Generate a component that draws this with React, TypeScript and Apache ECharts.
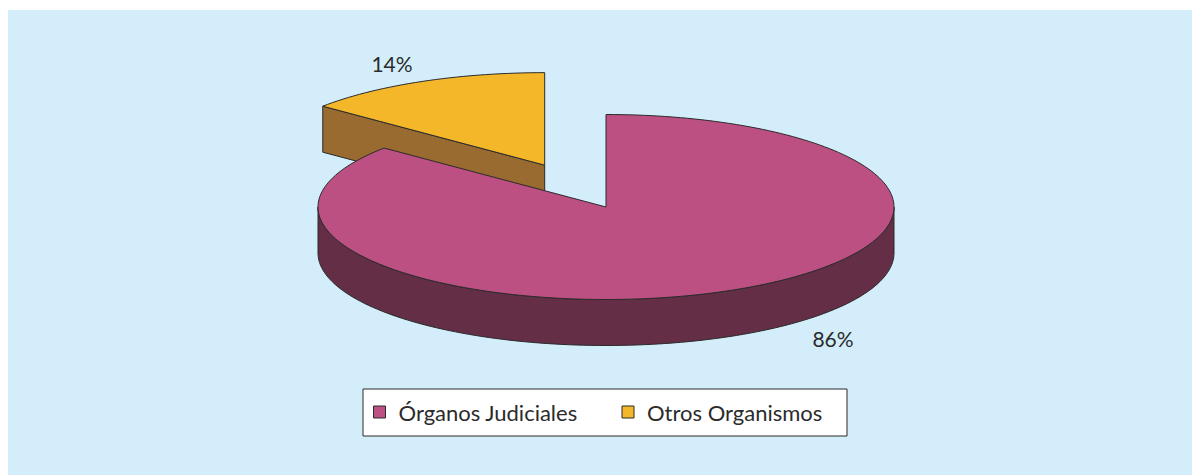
import React, { useEffect, useRef } from "react";
import * as echarts from "echarts";

const categories = ["Órganos Judiciales", "Otros Organismos"];
const values = [86, 14];
const topColors = ["#BC5082", "#F4B72A"];
const sideColors = ["#642E46", "#996B31"];
const explodeFrac = [0, 0.5];

// layout (chart coords)
const CX = 598;
const CY = 197;
const RX = 288;
const RY = 92.5;
const DEPTH = 46;
const STROKE = "#2b2b2b";
const labelPos = [
  [825, 328],
  [384, 53],
];

const rad = (d: number) => (d * Math.PI) / 180;

function makeRenderItem(i: number) {
  return (params: any, api: any) => {
    const total = values.reduce((a, b) => a + b, 0);
    let cum = 0;
    for (let k = 0; k < i; k++) cum += values[k];
    const v = api.value(0);
    const a0 = 90 - (cum / total) * 360;
    const a1 = a0 - (v / total) * 360;
    const mid = (a0 + a1) / 2;
    const cx = CX + explodeFrac[i] * RX * Math.cos(rad(mid));
    const cy = CY - explodeFrac[i] * RY * Math.sin(rad(mid));
    const pt = (a: number, dz: number) => [
      cx + RX * Math.cos(rad(a)),
      cy - RY * Math.sin(rad(a)) + dz,
    ];
    const arc = (from: number, to: number, dz: number) => {
      const n = Math.max(8, Math.ceil(Math.abs(to - from) / 1.5));
      const pts: number[][] = [];
      for (let s = 0; s <= n; s++) pts.push(pt(from + ((to - from) * s) / n, dz));
      return pts;
    };
    const style = (fill: string) => ({
      fill,
      stroke: STROKE,
      lineWidth: 1,
      lineJoin: "round",
    });
    const children: any[] = [];
    // radial faces
    const faces: [number, number][] = [
      [a0, a0 + 90],
      [a1, a1 - 90],
    ];
    faces.forEach(([a, nrm]) => {
      if (Math.sin(rad(nrm)) < -1e-6) {
        const p = pt(a, 0);
        const q = pt(a, DEPTH);
        children.push({
          type: "polygon",
          shape: { points: [[cx, cy], p, q, [cx, cy + DEPTH]] },
          style: style(sideColors[i]),
        });
      }
    });
    // outer curved side (front half)
    for (let k = -2; k <= 1; k++) {
      const lo = Math.max(a1, 180 + 360 * k);
      const hi = Math.min(a0, 360 + 360 * k);
      if (lo < hi) {
        const pts = arc(lo, hi, 0).concat(arc(hi, lo, DEPTH));
        children.push({
          type: "polygon",
          shape: { points: pts },
          style: style(sideColors[i]),
        });
      }
    }
    // top face
    children.push({
      type: "polygon",
      shape: { points: [[cx, cy]].concat(arc(a0, a1, 0)) },
      style: style(topColors[i]),
    });
    return { type: "group", children };
  };
}

export default function App() {
  const ref = useRef<HTMLDivElement>(null);
  useEffect(() => {
    if (!ref.current) return;
    const chart = echarts.init(ref.current, null, { renderer: "svg" });
    const order = [1, 0]; // draw the back (exploded) slice first
    const series = order.map((i) => ({
      type: "custom",
      name: categories[i],
      coordinateSystem: "none",
      itemStyle: { color: topColors[i] },
      renderItem: makeRenderItem(i),
      data: [[values[i]]],
      silent: true,
    }));
    chart.setOption({
      animation: false,
      backgroundColor: "#D3EEFA",
      textStyle: { fontFamily: "Lato" },
      legend: {
        data: categories,
        left: 355,
        top: 379,
        orient: "horizontal",
        icon: "rect",
        itemWidth: 12,
        itemHeight: 12,
        itemGap: 40,
        backgroundColor: "#ffffff",
        borderColor: "#2b2b2b",
        borderWidth: 1,
        borderRadius: 0,
        padding: [12, 17, 13, 10],
        itemStyle: { borderColor: "#2b2b2b", borderWidth: 1 },
        textStyle: {
          fontFamily: "Lato",
          fontSize: 22,
          color: "#2b2b2b",
          lineHeight: 20,
          width: 183,
          padding: [0, 0, 0, 8],
        },
      },
      graphic: values.map((v, i) => ({
        type: "text",
        x: labelPos[i][0],
        y: labelPos[i][1],
        style: {
          text: `${v}%`,
          fontFamily: "Lato",
          fontSize: 21,
          fill: "#2b2b2b",
          align: "center",
          verticalAlign: "middle",
        },
      })),
      series,
    });
    return () => chart.dispose();
  }, []);
  return (
    <div
      ref={ref}
      style={{ position: "fixed", left: 8, top: 10, width: 1184, height: 465 }}
    />
  );
}
